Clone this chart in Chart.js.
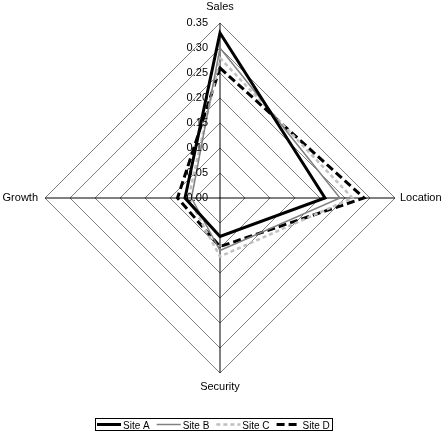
<!DOCTYPE html>
<html>
<head>
<meta charset="utf-8">
<script src="https://cdn.jsdelivr.net/npm/chart.js@4/dist/chart.umd.min.js"></script>
<style>
  body { margin: 0; background: #fff; }
  #wrap { width: 448px; height: 441px; position: relative; }
</style>
</head>
<body>
<div id="wrap"><canvas id="radarChart"></canvas></div>
<script>
// 축 이름 (위 → 오른쪽 → 아래 → 왼쪽)
const categories = ['Sales', 'Location', 'Security', 'Growth'];

// 사이트별 값
const siteA = [0.33, 0.21, 0.077, 0.07];
const siteB = [0.30, 0.24, 0.105, 0.057];
const siteC = [0.28, 0.265, 0.117, 0.063];
const siteD = [0.26, 0.288, 0.097, 0.085];

// 눈금
const tickValues = [0, 0.05, 0.10, 0.15, 0.20, 0.25, 0.30, 0.35];

const FONT = "'Liberation Sans', Arial, sans-serif";

// 눈금 글자, 축 이름, 범례를 그리는 플러그인
const excelLook = {
	id: 'excelLook',
	afterDatasetsDraw(chart) {
		const scale = chart.scales.r;
		const ctx = chart.ctx;
		ctx.save();
		ctx.fillStyle = '#000';
		ctx.font = '11px ' + FONT;
		ctx.textAlign = 'right';
		ctx.textBaseline = 'middle';
		tickValues.forEach(v => {
			const y = scale.yCenter - scale.getDistanceFromCenterForValue(v);
			ctx.fillText(v.toFixed(2), scale.xCenter - 12, y);
		});
		ctx.restore();
	},
	afterDraw(chart) {
		const scale = chart.scales.r;
		const ctx = chart.ctx;
		const r = scale.drawingArea;
		ctx.save();
		ctx.fillStyle = '#000';
		ctx.font = '11px ' + FONT;
		ctx.textBaseline = 'middle';
		// 축 이름
		ctx.textAlign = 'center';
		ctx.fillText(categories[0], scale.xCenter, scale.yCenter - r - 16);
		ctx.fillText(categories[2], scale.xCenter, scale.yCenter + r + 14);
		ctx.textAlign = 'left';
		ctx.fillText(categories[1], scale.xCenter + r + 5, scale.yCenter);
		ctx.textAlign = 'right';
		ctx.fillText(categories[3], scale.xCenter - r - 7, scale.yCenter);

		// 범례 (테두리 상자 안에 선 + 이름)
		const lineY = 424.5;
		const startX = 97;
		let x = startX;
		ctx.font = '10px ' + FONT;
		ctx.textAlign = 'left';
		ctx.textBaseline = 'alphabetic';
		chart.data.datasets.forEach(ds => {
			ctx.save();
			ctx.strokeStyle = ds.borderColor;
			ctx.lineWidth = ds.borderWidth;
			ctx.setLineDash(ds.borderDash || []);
			ctx.beginPath();
			ctx.moveTo(x, lineY);
			ctx.lineTo(x + 24, lineY);
			ctx.stroke();
			ctx.restore();
			ctx.fillText(ds.label, x + 26, 428.5);
			x += 26 + ctx.measureText(ds.label).width + 7;
		});
		ctx.strokeStyle = '#000';
		ctx.lineWidth = 1;
		ctx.strokeRect(startX - 1.5, 418.5, Math.round(x - 7 + 3 - startX) + 1, 12);
		ctx.restore();
	}
};

const radarCtx = document.getElementById('radarChart').getContext('2d');
new Chart(radarCtx, {
	type: 'radar',
	data: {
		labels: categories,
		datasets: [
			{ label: 'Site A', data: siteA, borderColor: '#000000', borderWidth: 3 },
			{ label: 'Site B', data: siteB, borderColor: '#808080', borderWidth: 1.5 },
			{ label: 'Site C', data: siteC, borderColor: '#C0C0C0', borderWidth: 2.5, borderDash: [4, 3] },
			{ label: 'Site D', data: siteD, borderColor: '#000000', borderWidth: 3, borderDash: [8, 4] }
		].map(ds => Object.assign(ds, {
			fill: false,
			pointRadius: 0,
			pointHoverRadius: 0,
			tension: 0,
			backgroundColor: 'transparent'
		}))
	},
	options: {
		responsive: true,
		maintainAspectRatio: false,
		animation: false,
		layout: {
			padding: { left: 45, right: 53, top: 23, bottom: 68 }
		},
		scales: {
			r: {
				min: 0,
				max: 0.35,
				ticks: { stepSize: 0.05, display: false },
				grid: { circular: false, color: '#808080', lineWidth: 1 },
				angleLines: { color: '#000000', lineWidth: 1 },
				pointLabels: { display: false }
			}
		},
		plugins: {
			legend: { display: false },
			tooltip: { enabled: false }
		}
	},
	plugins: [excelLook]
});
</script>
</body>
</html>
